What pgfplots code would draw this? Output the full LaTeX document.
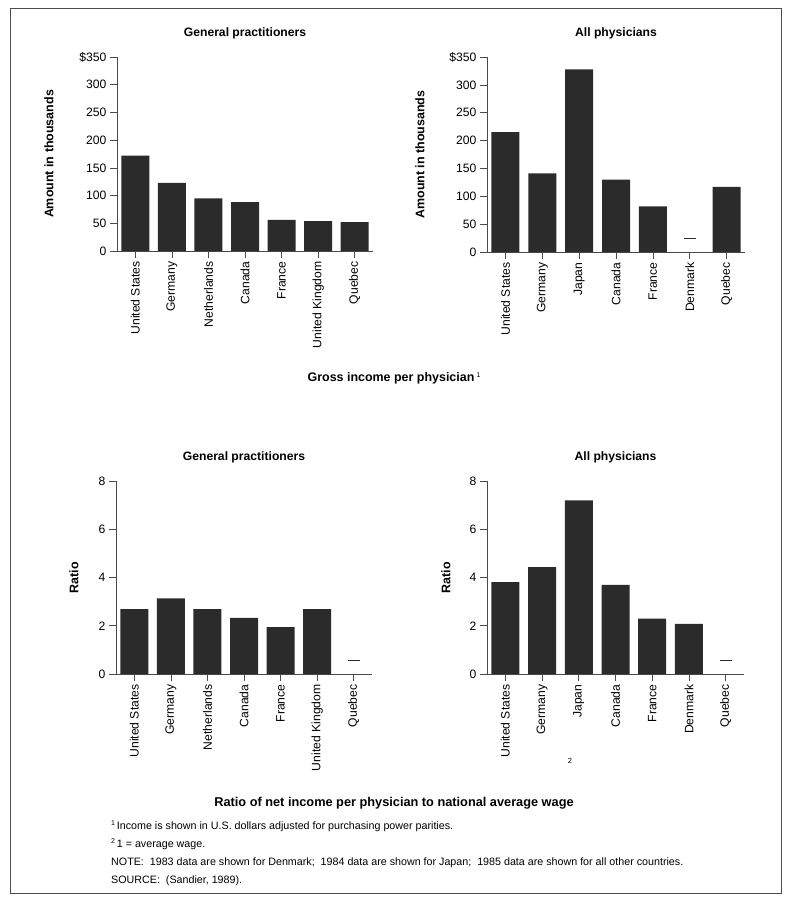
\documentclass[border=0pt]{standalone}
\usepackage{pgfplots}
\pgfplotsset{compat=1.18}
\usepackage{fontspec}
\setmainfont{Liberation Sans}
\definecolor{barc}{HTML}{2B2B2B}
\definecolor{axc}{HTML}{4A4A4A}

\pgfplotsset{
 panel/.style={
  scale only axis,
  axis x line*=bottom, axis y line*=left,
  axis line style={axc, line width=0.7bp, -},
  tick style={axc, line width=0.7bp},
  tick align=outside, major tick length=7bp,
  xmin=-0.5, xmax=6.5, ymin=0,
  xtick={0,...,6},
  x tick label style={rotate=90, anchor=east, font=\fontsize{12.2}{14}\selectfont},
  y tick label style={font=\fontsize{12.2}{14}\selectfont},
  /pgf/number format/assume math mode=true,
  title style={font=\bfseries\fontsize{12.2}{14}\selectfont, anchor=south, yshift=8bp},
  ylabel style={font=\bfseries\fontsize{12.5}{14}\selectfont, anchor=center},
  clip=false,
 },
 money/.style={ymax=350, ytick={0,50,100,150,200,250,300,350},
   yticklabels={0,50,100,150,200,250,300,\$350}, ylabel={Amount in thousands}},
 ratio/.style={ymax=8, ytick={0,2,4,6,8}, ylabel={Ratio}},
 bars/.style={ybar, bar width=28bp, fill=barc, draw=none},
 dash/.style={only marks, mark=-, mark size=6bp, mark options={line width=1.1bp, draw=barc}},
}

\begin{document}
\begin{tikzpicture}
\path[use as bounding box] (0bp,0bp) rectangle (789bp,-902bp);
\draw[black!70, line width=0.8bp] (10bp,-8bp) rectangle (781bp,-893bp);

% Top left
\begin{axis}[panel, money, width=256bp, height=194bp,
  at={(117bp,-251bp)}, anchor=south west,
  title={General practitioners},
  ylabel style={at={(axis description cs:-0.266,0.5)}},
  xticklabels={United States,Germany,Netherlands,Canada,France,United Kingdom,Quebec}]
\addplot[bars] coordinates {(0,172) (1,123) (2,95) (3,88) (4,56) (5,54) (6,52)};
\end{axis}

% Top right
\begin{axis}[panel, money, width=258bp, height=195bp,
  at={(487bp,-252bp)}, anchor=south west,
  title={All physicians},
  ylabel style={at={(axis description cs:-0.26,0.5)}},
  xticklabels={United States,Germany,Japan,Canada,France,Denmark,Quebec}]
\addplot[bars] coordinates {(0,215) (1,141) (2,328) (3,130) (4,82) (6,117)};
\addplot[dash] coordinates {(5,25)};
\end{axis}

% Bottom left
\begin{axis}[panel, ratio, width=256bp, height=193bp,
  at={(116bp,-674bp)}, anchor=south west,
  title={General practitioners},
  ylabel style={at={(axis description cs:-0.164,0.5)}},
  xticklabels={United States,Germany,Netherlands,Canada,France,United Kingdom,Quebec}]
\addplot[bars] coordinates {(0,2.69) (1,3.14) (2,2.69) (3,2.33) (4,1.94) (5,2.69)};
\addplot[dash] coordinates {(6,0.56)};
\end{axis}

% Bottom right
\begin{axis}[panel, ratio, width=257bp, height=193bp,
  at={(487bp,-674bp)}, anchor=south west,
  title={All physicians},
  ylabel style={at={(axis description cs:-0.16,0.5)}},
  xticklabels={United States,Germany,Japan,Canada,France,Denmark,Quebec}]
\addplot[bars] coordinates {(0,3.81) (1,4.43) (2,7.2) (3,3.7) (4,2.3) (5,2.08)};
\addplot[dash] coordinates {(6,0.56)};
\end{axis}

\node[font=\bfseries\fontsize{12.5}{14}\selectfont] at (394bp,-378bp)
  {Gross income per physician\,\raisebox{0.6ex}{\mdseries\fontsize{7}{8}\selectfont 1}};
\node[font=\fontsize{7.5}{8}\selectfont] at (570bp,-761bp) {2};
\node[font=\bfseries\fontsize{12.8}{14}\selectfont] at (394bp,-803bp)
  {Ratio of net income per physician to national average wage};
\begin{scope}[every node/.style={anchor=base west, inner sep=0pt, font=\fontsize{10.75}{12}\selectfont}]
\node at (111bp,-829bp) {\raisebox{0.6ex}{\fontsize{7}{8}\selectfont 1}\,Income is shown in U.S. dollars adjusted for purchasing power parities.};
\node at (111bp,-847bp) {\raisebox{0.6ex}{\fontsize{7}{8}\selectfont 2}\,1 = average wage.};
\node at (111bp,-865bp) {NOTE:\ \ 1983 data are shown for Denmark;\ \ 1984 data are shown for Japan;\ \ 1985 data are shown for all other countries.};
\node at (111bp,-883bp) {SOURCE:\ \ (Sandier, 1989).};
\end{scope}
\end{tikzpicture}
\end{document}
